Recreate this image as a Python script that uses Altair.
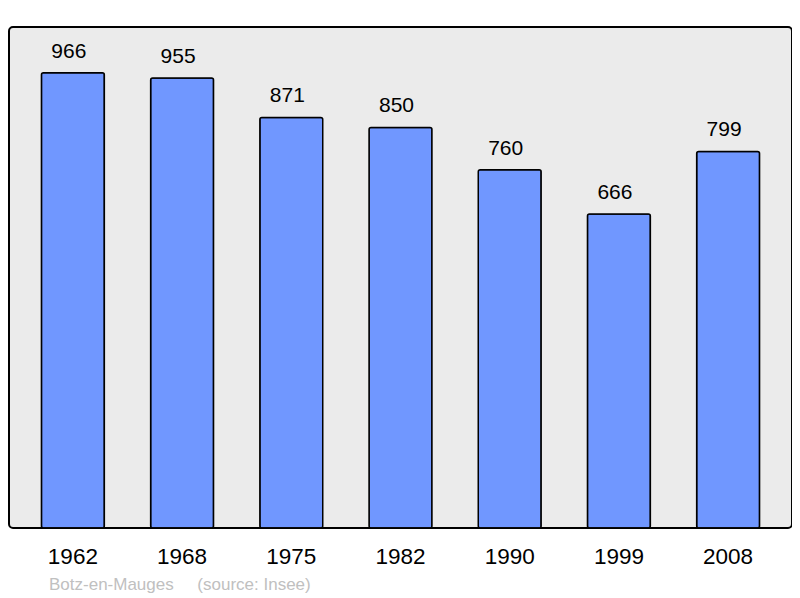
import altair as alt
import pandas as pd

years = ["1962", "1968", "1975", "1982", "1990", "1999", "2008"]
population = [966, 955, 871, 850, 760, 666, 799]
caption = "Botz-en-Mauges\u00a0\u00a0\u00a0\u00a0\u00a0(source: Insee)"

df = pd.DataFrame({"year": years, "pop": population})

FONT = "Liberation Sans"

x = alt.X("year:N", sort=None,
          scale=alt.Scale(paddingInner=0.424, paddingOuter=0.297),
          axis=alt.Axis(title=None, labelAngle=0, labelFontSize=22.5, labelColor="#000",
                        labelFont=FONT, domain=False, ticks=False, labelPadding=17))
y = alt.Y("pop:Q", scale=alt.Scale(domain=[0, 1063], nice=False),
          axis=None)

bars = alt.Chart(df).mark_bar(color="#7097ff", stroke="#000", strokeWidth=1.5,
                              cornerRadius=2).encode(x=x, y=y)
labels = alt.Chart(df).mark_text(fontSize=21, font=FONT, color="#000",
                                 baseline="alphabetic", dy=-15, dx=-4).encode(
    x=x, y=y, text="pop:Q")

chart = (bars + labels).properties(
    width=783, height=501,
    background="white",
    autosize=alt.AutoSizeParams(type="none"),
    padding={"left": 1, "top": 19, "right": 0, "bottom": 70},
    title=alt.TitleParams(caption, orient="bottom", anchor="start", fontSize=17,
                          font=FONT, fontWeight="normal", color="#c0c0c0", dx=40,
                          offset=9),
).configure_view(
    fill="#ebebeb", stroke="#000", strokeWidth=2, cornerRadius=4
)

chart.save("out.html", embed_options={"renderer": "svg", "actions": False})
